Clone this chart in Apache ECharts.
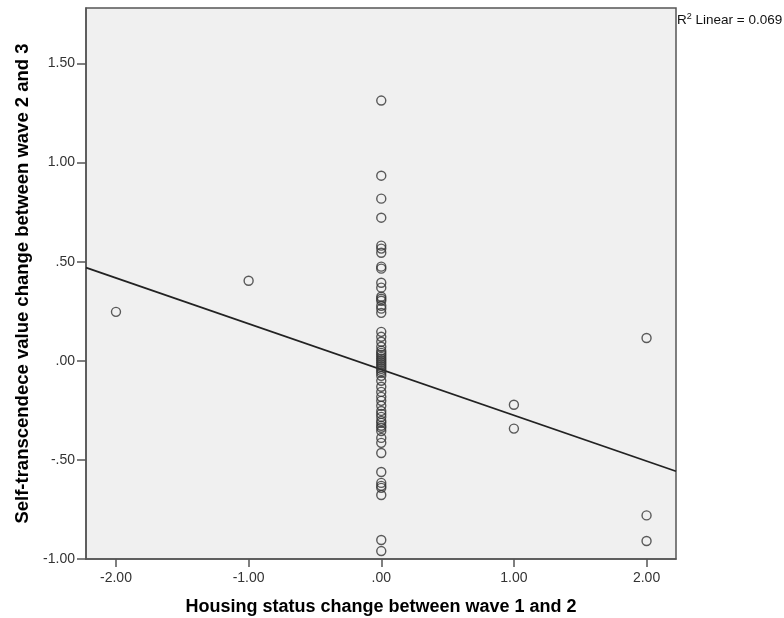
<!DOCTYPE html>
<html>
<head>
<meta charset="utf-8">
<script src="https://cdn.jsdelivr.net/npm/echarts@6/dist/echarts.min.js"></script>
<style>
html,body{margin:0;padding:0;background:#fff;}
#chart{width:784px;height:618px;}
</style>
</head>
<body>
<div id="chart"></div>
<script>
// Housing status change (x) per group with self-transcendence change (y)
var xAtMinus2 = [-2];
var yAtMinus2 = [0.247];
var xAtMinus1 = [-1];
var yAtMinus1 = [0.404];
var yAtZero = [1.313, 0.934, 0.818, 0.722, 0.581, 0.566, 0.545, 0.475, 0.465, 0.394, 0.369,
  0.323, 0.313, 0.303, 0.278, 0.263, 0.242, 0.146, 0.121, 0.096, 0.071, 0.051, 0.040, 0.030,
  0.020, 0.010, 0.000, -0.010, -0.020, -0.030, -0.040, -0.051, -0.061, -0.076, -0.101, -0.131,
  -0.157, -0.182, -0.202, -0.227, -0.253, -0.268, -0.283, -0.303, -0.313, -0.328, -0.338,
  -0.354, -0.389, -0.414, -0.465, -0.561, -0.616, -0.631, -0.641, -0.677, -0.904, -0.960];
var yAtPlus1 = [-0.222, -0.342];
var yAtPlus2 = [0.115, -0.780, -0.909];

// Linear fit
var fitIntercept = -0.044;
var fitSlope = -0.231;
var r2Text = '0.069';

var xTicks = [-2, -1, 0, 1, 2];
var xTickLabels = ['-2.00', '-1.00', '.00', '1.00', '2.00'];
var yTicks = [-1, -0.5, 0, 0.5, 1, 1.5];
var yTickLabels = ['-1.00', '-.50', '.00', '.50', '1.00', '1.50'];

var xMin = -2.226, xMax = 2.222, yMin = -1.0, yMax = 1.78;

var points = [];
xAtMinus2.forEach(function(x, i){ points.push([x, yAtMinus2[i]]); });
xAtMinus1.forEach(function(x, i){ points.push([x, yAtMinus1[i]]); });
yAtZero.forEach(function(y){ points.push([0, y]); });
yAtPlus1.forEach(function(y){ points.push([1, y]); });
yAtPlus2.forEach(function(y){ points.push([2, y]); });

var fitLine = [[xMin, fitIntercept + fitSlope * xMin], [xMax, fitIntercept + fitSlope * xMax]];

function fmt(list, labels){
  return function(v){
    for (var i = 0; i < list.length; i++) if (Math.abs(list[i] - v) < 1e-6) return labels[i];
    return '';
  };
}

var FONT = 'Liberation Sans, Arial, sans-serif';
var chart = echarts.init(document.getElementById('chart'), null, {renderer: 'canvas'});
chart.setOption({
  backgroundColor: '#ffffff',
  animation: false,
  grid: {left: 86, right: 108, top: 8, bottom: 59, show: true, backgroundColor: '#f0f0f0', borderColor: '#555555', borderWidth: 1.5, containLabel: false, outerBoundsMode: 'none'},
  xAxis: {
    type: 'value', min: xMin, max: xMax,
    name: 'Housing status change between wave 1 and 2',
    nameLocation: 'middle', nameGap: 39,
    nameTextStyle: {fontFamily: FONT, fontSize: 18, fontWeight: 'bold', color: '#000'},
    axisLine: {show: true, onZero: false, lineStyle: {color: '#555555', width: 1.5}},
    axisTick: {show: true, length: 8, inside: false, customValues: xTicks, lineStyle: {color: '#555555', width: 1.5}},
    axisLabel: {customValues: xTicks, formatter: fmt(xTicks, xTickLabels), margin: 12, fontFamily: FONT, fontSize: 14, color: '#333'},
    splitLine: {show: false}
  },
  yAxis: {
    type: 'value', min: yMin, max: yMax,
    name: 'Self-transcendece value change between wave 2 and 3',
    nameLocation: 'middle', nameGap: 53,
    nameTextStyle: {fontFamily: FONT, fontSize: 18.5, fontWeight: 'bold', color: '#000'},
    axisLine: {show: true, onZero: false, lineStyle: {color: '#555555', width: 1.5}},
    axisTick: {show: true, length: 9, inside: false, customValues: yTicks, lineStyle: {color: '#555555', width: 1.5}},
    axisLabel: {customValues: yTicks, formatter: fmt(yTicks, yTickLabels), margin: 11, fontFamily: FONT, fontSize: 14, color: '#333'},
    splitLine: {show: false}
  },
  graphic: [{
    type: 'text', left: 677, top: 12,
    style: {
      text: '{n|R}{s|2}{n| Linear = ' + r2Text + '}',
      rich: {
        n: {fontFamily: FONT, fontSize: 13.5, fill: '#111', verticalAlign: 'bottom'},
        s: {fontFamily: FONT, fontSize: 9, fill: '#111', verticalAlign: 'top', padding: [0, 0, 6, 0]}
      }
    }
  }],
  series: [{
    type: 'line', data: fitLine, showSymbol: false, symbol: 'none',
    lineStyle: {color: '#222', width: 1.8}, silent: true, z: 2, clip: true
  }, {
    type: 'scatter', data: points, symbol: 'circle', symbolSize: 9,
    itemStyle: {color: 'rgba(0,0,0,0)', borderColor: '#333', borderWidth: 1.4}, z: 3
  }]
});
</script>
</body>
</html>
